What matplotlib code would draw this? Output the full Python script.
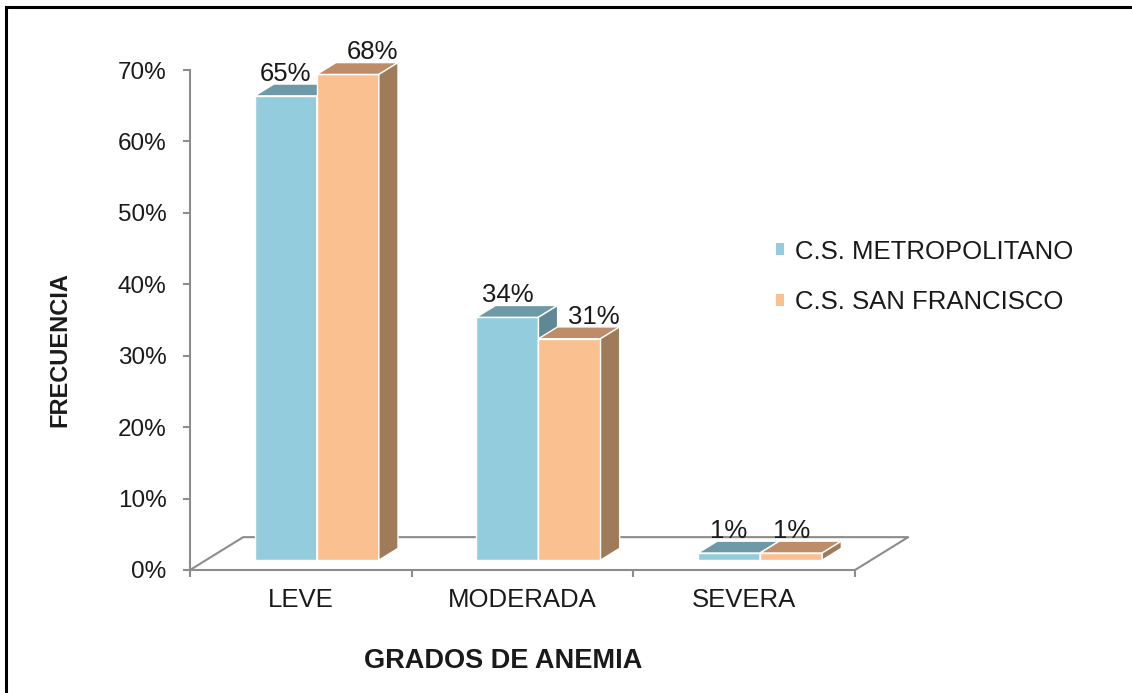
import matplotlib.pyplot as plt
from matplotlib.patches import Polygon, Rectangle, Patch

plt.rcParams['font.family'] = ['Liberation Sans', 'DejaVu Sans']

categories = ['LEVE', 'MODERADA', 'SEVERA']
series_names = ['C.S. METROPOLITANO', 'C.S. SAN FRANCISCO']
metropolitano = [65, 34, 1]
san_francisco = [68, 31, 1]
y_ticks = [0, 10, 20, 30, 40, 50, 60, 70]

front_colors = ['#93CDDD', '#FAC090']
top_colors = ['#6E9AA7', '#BC8D68']
side_colors = ['#5E8893', '#A07B5A']
axis_gray = '#8C8C8C'
txt = '#1A1A1A'

# fake 3d: floor depth in data units, bars sit between f0 and f1 of the depth
DX, DY = 0.24, 4.6
f0, f1 = 0.3, 0.66
bar_w = 0.28
label_dx = [[0, 0, 0], [0.11, 0.11, 0]]

W, H = 1132, 693
fig = plt.figure(figsize=(W / 100, H / 100), dpi=100)
ax = fig.add_axes([190 / W, 1 - 570 / H, 665 / W, 500 / H])
ax.set_xlim(-0.5, 2.5)
ax.set_ylim(0, 70)

for s in ['top', 'right']:
    ax.spines[s].set_visible(False)
for s in ['left', 'bottom']:
    ax.spines[s].set_color(axis_gray)
    ax.spines[s].set_linewidth(1.5)

# floor
x_lo, x_hi = -0.5, 2.5
ax.plot([x_lo, x_lo + DX, x_hi + DX, x_hi], [0, DY, DY, 0],
        color=axis_gray, lw=1.5, clip_on=False, zorder=1)

b = f0 * DY
ddx = (f1 - f0) * DX
ddy = (f1 - f0) * DY
for i, vals in enumerate([metropolitano, san_francisco]):
    z = 3 + i
    for c, v in enumerate(vals):
        x0 = c + f0 * DX - bar_w + i * bar_w
        x1 = x0 + bar_w
        top = b + v
        ax.bar(x0, v, bottom=b, width=bar_w, align='edge', color=front_colors[i],
               edgecolor='white', lw=1, zorder=z, clip_on=False)
        ax.add_patch(Polygon([(x0, top), (x1, top), (x1 + ddx, top + ddy), (x0 + ddx, top + ddy)],
                             closed=True, fc=top_colors[i], ec='white', lw=1, zorder=z, clip_on=False))
        ax.add_patch(Polygon([(x1, b), (x1, top), (x1 + ddx, top + ddy), (x1 + ddx, b + ddy)],
                             closed=True, fc=side_colors[i], ec='white', lw=1, zorder=z, clip_on=False))
        ax.text(x0 + bar_w / 2 + label_dx[i][c], top + ddy + 0.45, f'{v}%',
                ha='center', va='baseline', fontsize=18.5, color=txt, zorder=6, clip_on=False)

ax.set_yticks(y_ticks)
ax.set_yticklabels([f'{t}%' for t in y_ticks])
ax.tick_params(axis='y', length=5, width=1.5, color=axis_gray, pad=12, labelsize=17.5, labelcolor=txt)

ax.set_xticks([-0.5, 0.5, 1.5, 2.5])
ax.set_xticklabels([])
ax.tick_params(axis='x', which='major', length=5, width=1.5, color=axis_gray, direction='out')
ax.set_xticks(range(len(categories)), minor=True)
ax.set_xticklabels(categories, minor=True)
ax.tick_params(axis='x', which='minor', length=0, pad=13, labelsize=18.5, labelcolor=txt)

fig.text(60 / W, 1 - 350 / H, 'FRECUENCIA', rotation=90, ha='center', va='center',
         fontsize=17, fontweight='bold', color=txt)
fig.text(503 / W, 1 - 661 / H, 'GRADOS DE ANEMIA', ha='center', va='center',
         fontsize=19.5, fontweight='bold', color=txt)

handles = [Patch(facecolor=front_colors[k], edgecolor='none') for k in range(2)]
fig.legend(handles, series_names, loc='center left', bbox_to_anchor=(776 / W, 1 - 277 / H),
           frameon=False, fontsize=18.5, handlelength=0.33, handleheight=0.33,
           handletextpad=0.4, labelspacing=1.05, borderpad=0, borderaxespad=0,
           labelcolor=txt)

# outer frame (only left and top edges visible in the original)
fig.add_artist(Rectangle((6 / W, -0.1), 1.2, 1.1 - 7 / H, transform=fig.transFigure,
                         fill=False, ec='black', lw=2.2, clip_on=False))

fig.savefig('out.png', dpi=100)
